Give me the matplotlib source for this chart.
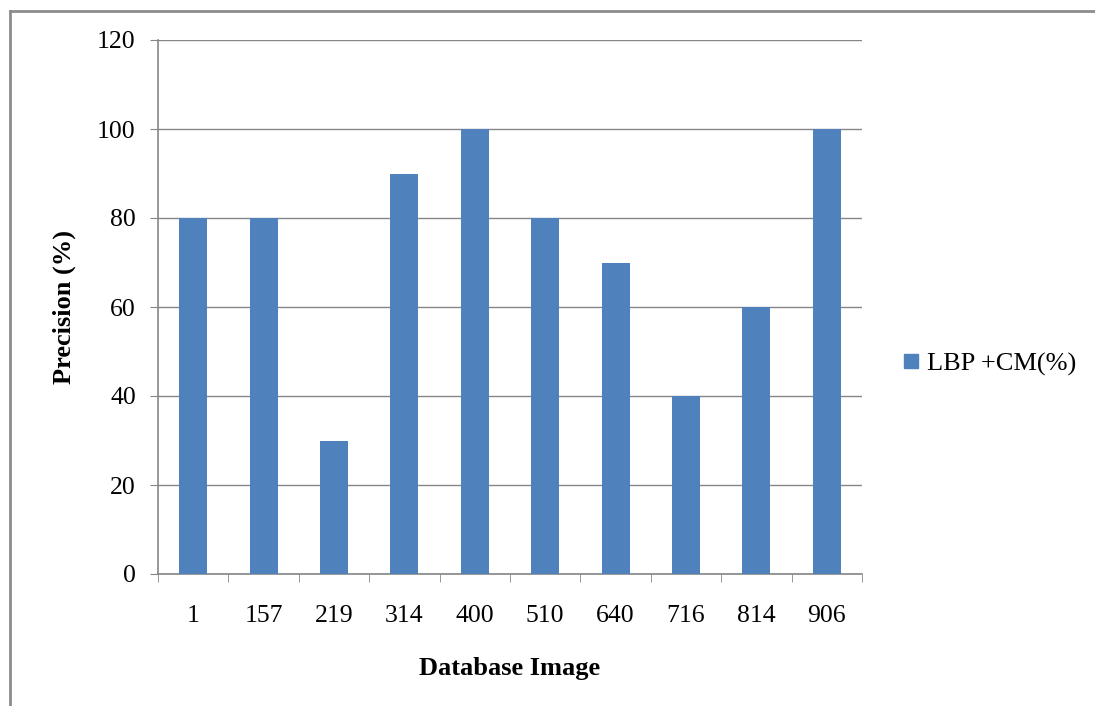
import matplotlib
matplotlib.use("Agg")
import matplotlib.pyplot as plt
from matplotlib.lines import Line2D
import numpy as np

categories = ["1", "157", "219", "314", "400", "510", "640", "716", "814", "906"]
precision = [80, 80, 30, 90, 100, 80, 70, 40, 60, 100]
series_name = "LBP +CM(%)"

plt.rcParams["font.family"] = ["Liberation Serif", "DejaVu Serif"]

fig = plt.figure(figsize=(10.95, 7.06), dpi=100)
W, H = 1095, 706
ax = fig.add_axes([158 / W, 1 - 574 / H, (862 - 158) / W, (574 - 40) / H])

x = np.arange(len(categories))
ax.bar(x, precision, width=0.4, color="#4F81BD", zorder=3, label=series_name)

ax.set_xlim(-0.5, len(categories) - 0.5)
ax.set_ylim(0, 120)
ax.set_yticks(np.arange(0, 121, 20))
ax.yaxis.grid(True, color="#868686", linewidth=1.0, zorder=0)

ax.set_xticks(x)
ax.set_xticklabels(categories, fontsize=18.5)
ax.set_xticks(np.arange(-0.5, len(categories)), minor=True)
ax.tick_params(axis="x", which="major", length=0, pad=22)
ax.tick_params(axis="x", which="minor", length=6, color="#868686", direction="out")
ax.tick_params(axis="y", length=6, color="#868686", direction="out", labelsize=18.5, pad=10)

for side in ["top", "right"]:
    ax.spines[side].set_visible(False)
for side in ["left", "bottom"]:
    ax.spines[side].set_color("#868686")
    ax.spines[side].set_linewidth(1.2)

ax.set_ylabel("Precision (%)", fontsize=19, fontweight="bold", labelpad=15)
ax.set_xlabel("Database Image", fontsize=19, fontweight="bold", labelpad=22)

handle = Line2D([], [], marker="s", linestyle="none", markersize=10,
                markerfacecolor="#4F81BD", markeredgecolor="#4F81BD")
fig.legend([handle], [series_name], loc="center left",
           bbox_to_anchor=(903 / W, 1 - 364 / H), frameon=False,
           fontsize=19, handlelength=0.6, handletextpad=0.3,
           borderaxespad=0, borderpad=0)

# figure frame: top and left edges
fig.add_artist(Line2D([10 / W, 1], [1 - 11 / H, 1 - 11 / H], color="#8C8C8C",
                      linewidth=2, transform=fig.transFigure))
fig.add_artist(Line2D([10 / W, 10 / W], [0, 1 - 11 / H], color="#8C8C8C",
                      linewidth=2, transform=fig.transFigure))

fig.savefig("out.png", dpi=100)
